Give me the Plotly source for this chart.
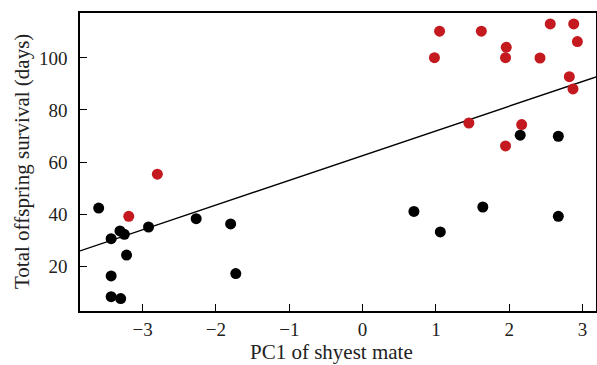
import plotly.graph_objects as go
import numpy as np

black_x = [-3.60, -3.43, -3.31, -3.25, -2.92, -2.27, -1.80, -3.22, -3.43, -1.73, -3.43, -3.30,
           0.70, 1.06, 1.64, 2.15, 2.67, 2.67]
black_y = [42.3, 30.5, 33.5, 32.2, 35.0, 38.2, 36.2, 24.2, 16.2, 17.1, 8.2, 7.5,
           41.0, 33.1, 42.7, 70.3, 69.9, 39.1]

red_x = [-3.19, -2.80, 1.45, 2.17, 1.95, 1.05, 1.62, 2.56, 2.88, 2.93, 1.96, 0.98, 1.95, 2.42, 2.82, 2.87]
red_y = [39.1, 55.3, 75.0, 74.4, 66.2, 110.3, 110.3, 113.1, 113.1, 106.3, 104.1, 100.1, 100.1, 100.0, 92.8, 88.1]

fit_intercept = 62.45
fit_slope = 9.51

x_range = [-3.855, 3.184]
y_range = [2.7, 117.3]

x_ticks = [-3, -2, -1, 0, 1, 2, 3]
y_ticks = [20, 40, 60, 80, 100]

x_title = "PC1 of shyest mate"
y_title = "Total offspring survival (days)"

fig = go.Figure()
line_x = np.array(x_range)
fig.add_trace(go.Scatter(x=line_x, y=fit_intercept + fit_slope * line_x, mode="lines",
                         line=dict(color="black", width=1.4), showlegend=False, hoverinfo="skip"))
fig.add_trace(go.Scatter(x=black_x, y=black_y, mode="markers",
                         marker=dict(color="black", size=11, line=dict(width=0)), showlegend=False))
fig.add_trace(go.Scatter(x=red_x, y=red_y, mode="markers",
                         marker=dict(color="#c4191f", size=11, line=dict(width=0)), showlegend=False))

font_family = "Liberation Serif, DejaVu Serif, serif"
fig.update_layout(
    width=597, height=365,
    margin=dict(l=80, r=1, t=13, b=54),
    paper_bgcolor="white", plot_bgcolor="white",
    font=dict(family=font_family, size=19, color="#222"),
    xaxis=dict(range=x_range, tickvals=x_ticks, ticks="inside", ticklen=7, tickwidth=1.2,
               tickcolor="black", showline=True, linecolor="black", linewidth=1.5, mirror=True,
               showgrid=False, zeroline=False, ticklabelstandoff=0, automargin=False),
    yaxis=dict(range=y_range, tickvals=y_ticks, ticks="inside", ticklen=7, tickwidth=1.2,
               tickcolor="black", showline=True, linecolor="black", linewidth=1.5, mirror=True,
               showgrid=False, zeroline=False, ticklabelstandoff=7, automargin=False),
    annotations=[
        dict(text=x_title, xref="paper", yref="paper", x=(331 - 80) / 516, y=(311 - 352) / 298,
             xanchor="center", yanchor="middle", showarrow=False, font=dict(size=21)),
        dict(text=y_title, xref="paper", yref="paper", x=(22 - 80) / 516, y=0.5,
             xanchor="center", yanchor="middle", showarrow=False, textangle=-90, font=dict(size=21)),
    ],
)
fig.write_html("out.html", config={"displayModeBar": False},
               post_script="document.body.style.margin='0';document.body.style.overflow='hidden';")
